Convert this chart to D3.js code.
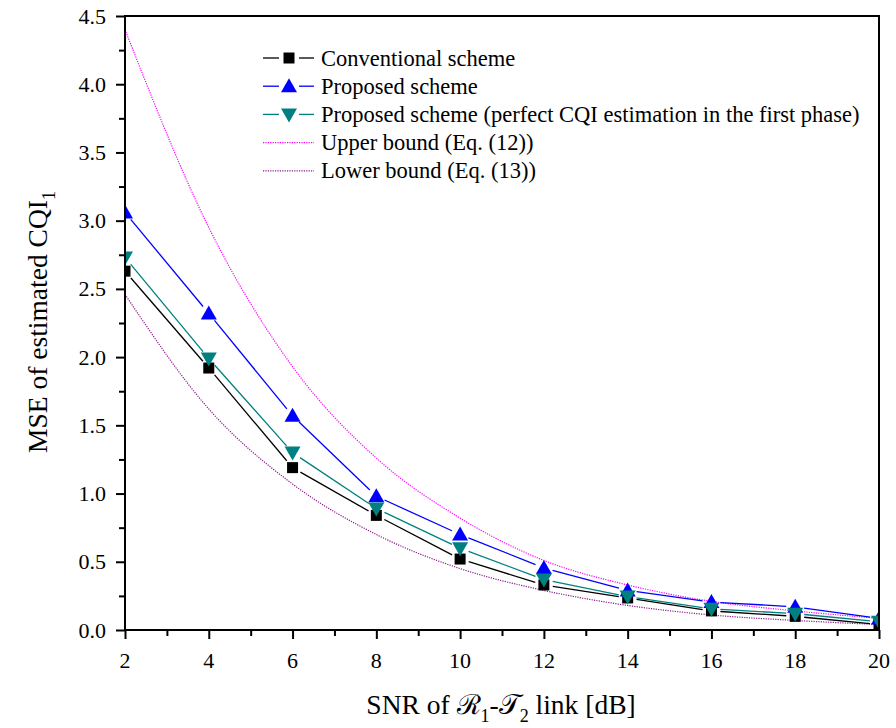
<!DOCTYPE html>
<html>
<head>
<meta charset="utf-8">
<script src="https://cdn.jsdelivr.net/npm/d3@7"></script>
<style>
  body { margin: 0; background: #fff; }
  svg { display: block; font-family: "Liberation Serif", "DejaVu Serif", serif; }
  .tick-label { font-size: 22px; fill: #000; }
  .axis-title { font-size: 27.5px; fill: #000; }
  .legend-text { font-size: 22.5px; fill: #000; }
</style>
</head>
<body>
<div id="chart"></div>
<script>
const snr = [2, 4, 6, 8, 10, 12, 14, 16, 18, 20];
const conventional = [2.63, 1.92, 1.19, 0.84, 0.52, 0.33, 0.235, 0.14, 0.10, 0.04];
const proposed = [3.06, 2.32, 1.57, 0.98, 0.70, 0.455, 0.29, 0.205, 0.17, 0.085];
const proposedPerfect = [2.73, 1.99, 1.30, 0.89, 0.60, 0.37, 0.245, 0.155, 0.12, 0.06];
const upperBound = [4.40, 2.95, 1.93, 1.26, 0.82, 0.51, 0.33, 0.21, 0.14, 0.085];
const lowerBound = [2.46, 1.62, 1.07, 0.70, 0.45, 0.29, 0.18, 0.11, 0.07, 0.04];

const xTicks = [2, 4, 6, 8, 10, 12, 14, 16, 18, 20];
const yTicks = [0, 0.5, 1.0, 1.5, 2.0, 2.5, 3.0, 3.5, 4.0, 4.5];

const width = 896;
const height = 728;
const margin = { top: 16, right: 17, bottom: 98, left: 125 };

const x = d3.scaleLinear().domain([2, 20]).range([margin.left, width - margin.right]);
const y = d3.scaleLinear().domain([0, 4.5]).range([height - margin.bottom, margin.top]);

const svg = d3.select("#chart").append("svg")
  .attr("width", width)
  .attr("height", height);

svg.append("clipPath").attr("id", "plot-clip")
  .append("rect")
  .attr("x", margin.left).attr("y", margin.top)
  .attr("width", width - margin.left - margin.right)
  .attr("height", height - margin.top - margin.bottom);

const plot = svg.append("g").attr("clip-path", "url(#plot-clip)");

// bounds: dotted smooth curves
const curveLine = d3.line()
  .x((d) => x(d[0]))
  .y((d) => y(d[1]))
  .curve(d3.curveMonotoneX);

const bounds = [
  { values: upperBound, color: "#ff00ff" },
  { values: lowerBound, color: "#8b1a8b" },
];

plot.selectAll(".bound")
  .data(bounds)
  .join("path")
  .attr("class", "bound")
  .attr("fill", "none")
  .attr("stroke", (b) => b.color)
  .attr("stroke-width", 1.2)
  .attr("stroke-dasharray", "1.2,1.2")
  .attr("d", (b) => curveLine(snr.map((s, i) => [s, b.values[i]])));

// symbol series with Origin-style gaps between line and markers
const series = [
  { values: conventional, color: "#000000", symbol: "square" },
  { values: proposed, color: "#0000ff", symbol: "up" },
  { values: proposedPerfect, color: "#008080", symbol: "down" },
];

const GAP = 9;

function gappedSegments(values) {
  const pts = snr.map((s, i) => [x(s), y(values[i])]);
  const segs = [];
  for (let i = 0; i < pts.length - 1; i++) {
    const [x1, y1] = pts[i];
    const [x2, y2] = pts[i + 1];
    const len = Math.hypot(x2 - x1, y2 - y1);
    if (len <= 2 * GAP) continue;
    const ux = (x2 - x1) / len;
    const uy = (y2 - y1) / len;
    segs.push({ x1: x1 + ux * GAP, y1: y1 + uy * GAP, x2: x2 - ux * GAP, y2: y2 - uy * GAP });
  }
  return segs;
}

function markerPath(symbol, cx, cy) {
  if (symbol === "square") {
    const h = 5.5;
    return `M${cx - h},${cy - h}H${cx + h}V${cy + h}H${cx - h}Z`;
  }
  const w = 8, hh = 7;
  if (symbol === "up") {
    return `M${cx},${cy - hh - 1}L${cx + w},${cy + hh - 1}L${cx - w},${cy + hh - 1}Z`;
  }
  return `M${cx},${cy + hh + 1}L${cx + w},${cy - hh + 1}L${cx - w},${cy - hh + 1}Z`;
}

series.forEach((s) => {
  const g = plot.append("g");
  g.selectAll("line")
    .data(gappedSegments(s.values))
    .join("line")
    .attr("x1", (d) => d.x1).attr("y1", (d) => d.y1)
    .attr("x2", (d) => d.x2).attr("y2", (d) => d.y2)
    .attr("stroke", s.color)
    .attr("stroke-width", 1.3);
});

series.forEach((s) => {
  plot.append("g").selectAll("path")
    .data(s.values)
    .join("path")
    .attr("d", (v, i) => markerPath(s.symbol, x(snr[i]), y(v)))
    .attr("fill", s.color);
});

// frame
svg.append("rect")
  .attr("x", margin.left).attr("y", margin.top)
  .attr("width", width - margin.left - margin.right)
  .attr("height", height - margin.top - margin.bottom)
  .attr("fill", "none")
  .attr("stroke", "#000")
  .attr("stroke-width", 2);

// axes
const xAxis = svg.append("g")
  .attr("transform", `translate(0,${height - margin.bottom})`)
  .call(d3.axisBottom(x).tickValues(d3.range(2, 20.5, 1)).tickSizeOuter(0).tickSize(5).tickFormat(""));
xAxis.select(".domain").remove();
xAxis.selectAll(".tick line")
  .attr("y2", (d) => (d % 2 === 0 ? 9 : 6))
  .attr("stroke-width", 2);

svg.append("g").selectAll("text")
  .data(xTicks)
  .join("text")
  .attr("class", "tick-label")
  .attr("x", (d) => x(d))
  .attr("y", height - margin.bottom + 38)
  .attr("text-anchor", "middle")
  .text((d) => d);

const yAxis = svg.append("g")
  .attr("transform", `translate(${margin.left},0)`)
  .call(d3.axisLeft(y).tickValues(d3.range(0, 4.51, 0.25)).tickSizeOuter(0).tickSize(5).tickFormat(""));
yAxis.select(".domain").remove();
yAxis.selectAll(".tick line")
  .attr("x2", (d) => (Math.abs(d * 2 - Math.round(d * 2)) < 1e-6 ? -9 : -6))
  .attr("stroke-width", 2);

svg.append("g").selectAll("text")
  .data(yTicks)
  .join("text")
  .attr("class", "tick-label")
  .attr("x", margin.left - 19)
  .attr("y", (d) => y(d) + 7.5)
  .attr("text-anchor", "end")
  .text((d) => d.toFixed(1));

// axis titles
const xTitle = svg.append("text")
  .attr("class", "axis-title")
  .attr("x", 501)
  .attr("y", 714)
  .attr("text-anchor", "middle");
xTitle.append("tspan").text("SNR of ");
xTitle.append("tspan").text("ℛ");
xTitle.append("tspan").attr("font-size", 18).attr("dy", 8).text("1");
xTitle.append("tspan").attr("dy", -8).text("-");
xTitle.append("tspan").text("𝒯");
xTitle.append("tspan").attr("font-size", 18).attr("dy", 8).text("2");
xTitle.append("tspan").attr("dy", -8).text(" link [dB]");

const yTitle = svg.append("text")
  .attr("class", "axis-title")
  .attr("transform", `translate(47,322) rotate(-90)`)
  .attr("text-anchor", "middle");
yTitle.append("tspan").text("MSE of estimated CQI");
yTitle.append("tspan").attr("font-size", 18).attr("dy", 8).text("1");

// legend
const legendItems = [
  { label: "Conventional scheme", color: "#000000", symbol: "square", dotted: false },
  { label: "Proposed scheme", color: "#0000ff", symbol: "up", dotted: false },
  { label: "Proposed scheme (perfect CQI estimation in the first phase)", color: "#008080", symbol: "down", dotted: false },
  { label: "Upper bound (Eq. (12))", color: "#ff00ff", symbol: null, dotted: true },
  { label: "Lower bound (Eq. (13))", color: "#8b1a8b", symbol: null, dotted: true },
];

const legend = svg.append("g").attr("transform", "translate(263,58)");
const rows = legend.selectAll("g")
  .data(legendItems)
  .join("g")
  .attr("transform", (d, i) => `translate(0,${i * 28.2})`);

rows.filter((d) => !d.dotted).each(function (d) {
  const row = d3.select(this);
  row.append("line").attr("x1", 0).attr("x2", 16).attr("y1", 0).attr("y2", 0)
    .attr("stroke", d.color).attr("stroke-width", 1.3);
  row.append("line").attr("x1", 36).attr("x2", 51).attr("y1", 0).attr("y2", 0)
    .attr("stroke", d.color).attr("stroke-width", 1.3);
  row.append("path").attr("d", markerPath(d.symbol, 26, 0)).attr("fill", d.color);
});

rows.filter((d) => d.dotted)
  .append("line")
  .attr("x1", 0).attr("x2", 51).attr("y1", 0).attr("y2", 0)
  .attr("stroke", (d) => d.color)
  .attr("stroke-width", 1.2)
  .attr("stroke-dasharray", "1.2,1.2");

rows.append("text")
  .attr("class", "legend-text")
  .attr("x", 58)
  .attr("y", 7.5)
  .text((d) => d.label);
</script>
</body>
</html>
